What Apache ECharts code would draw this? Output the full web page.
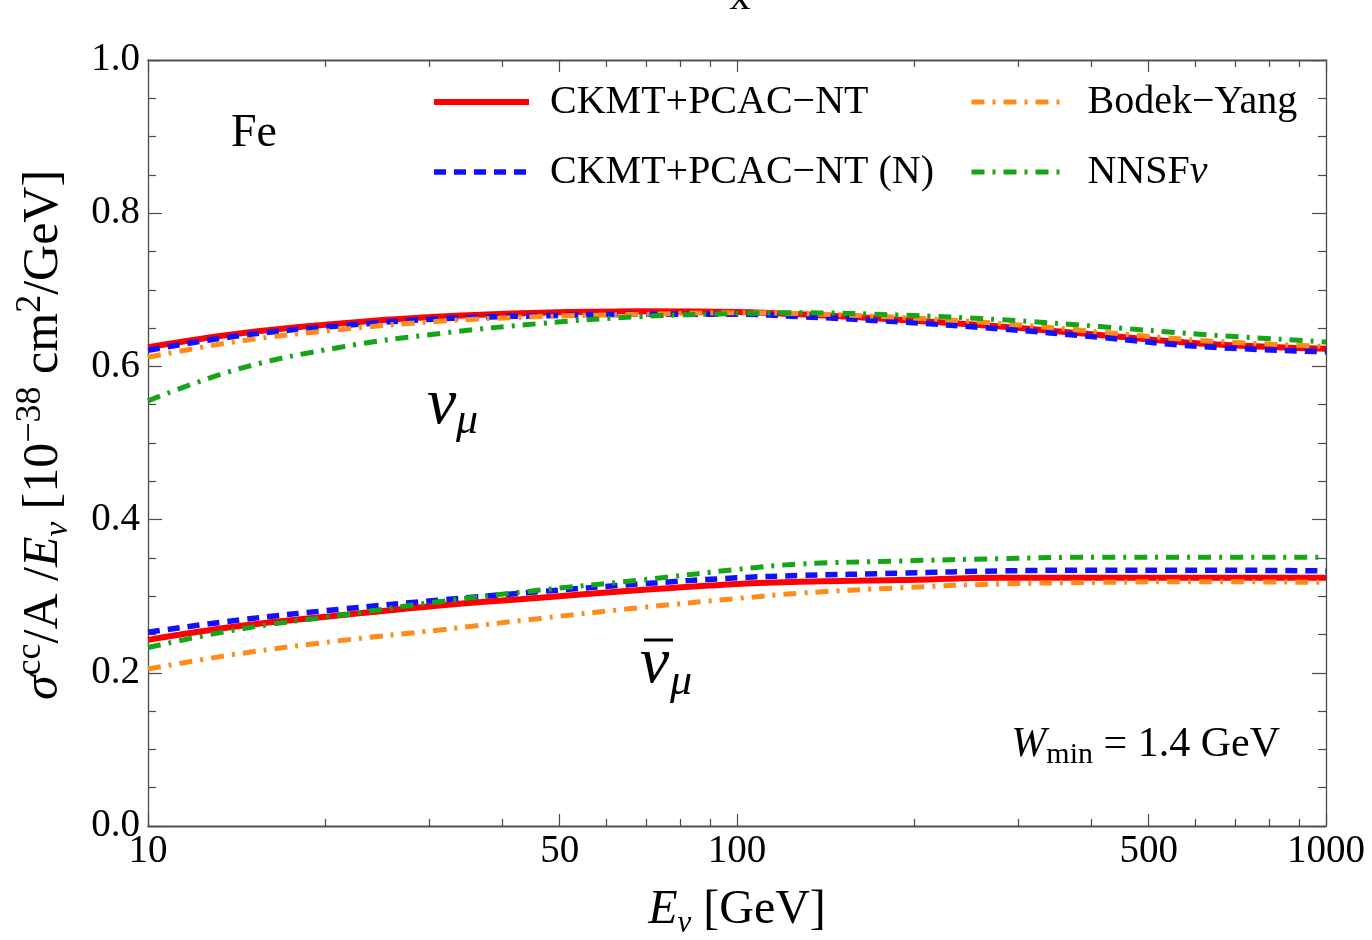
<!DOCTYPE html>
<html>
<head>
<meta charset="utf-8">
<script src="https://cdn.jsdelivr.net/npm/echarts@6/dist/echarts.min.js"></script>
<style>
  html, body { margin: 0; padding: 0; background: #fff; }
  #chart { width: 1372px; height: 940px; }
</style>
</head>
<body>
<div id="chart"></div>
<script>
// Neutrino energies (GeV) at which the curves are sampled
const energy = [10, 14.3, 21.2, 31.3, 46.3, 68.4, 100, 128, 189, 280, 413, 611, 1000];

// sigma_cc / A / E_nu  [1e-38 cm^2/GeV] for Fe, nu_mu
const nuCKMT   = [0.625, 0.643, 0.656, 0.665, 0.670, 0.672, 0.671, 0.668, 0.661, 0.652, 0.641, 0.630, 0.623];
const nuCKMTN  = [0.621, 0.640, 0.653, 0.662, 0.666, 0.668, 0.668, 0.665, 0.658, 0.649, 0.638, 0.626, 0.619];
const nuBY     = [0.612, 0.633, 0.648, 0.659, 0.665, 0.668, 0.670, 0.669, 0.664, 0.656, 0.645, 0.634, 0.626];
const nuNNSF   = [0.555, 0.597, 0.625, 0.643, 0.656, 0.665, 0.669, 0.670, 0.667, 0.661, 0.652, 0.642, 0.632];

// same for anti-nu_mu
const nubCKMT  = [0.243, 0.261, 0.275, 0.288, 0.298, 0.308, 0.316, 0.319, 0.321, 0.324, 0.324, 0.324, 0.324];
const nubCKMTN = [0.253, 0.269, 0.283, 0.295, 0.306, 0.316, 0.324, 0.327, 0.330, 0.333, 0.334, 0.334, 0.333];
const nubBY    = [0.205, 0.225, 0.242, 0.256, 0.271, 0.285, 0.297, 0.304, 0.311, 0.316, 0.318, 0.319, 0.318];
const nubNNSF  = [0.233, 0.257, 0.275, 0.293, 0.308, 0.321, 0.335, 0.342, 0.346, 0.349, 0.351, 0.351, 0.351];

// axis ticks
const xMajor = [10, 50, 100, 500, 1000];
const xMinor = [20, 30, 40, 60, 70, 80, 90, 200, 300, 400, 600, 700, 800, 900];
const yTicks = [0, 0.2, 0.4, 0.6, 0.8, 1.0];

const names = ['CKMT+PCAC\u2212NT', 'CKMT+PCAC\u2212NT (N)', 'Bodek\u2212Yang', 'NNSF\u03bd'];

const SERIF = 'Liberation Serif';
const AXIS_COLOR = '#4a4a4a';
const lg = Math.log10;
const toPts = vals => energy.map((e, i) => [lg(e), vals[i]]);

const styles = [
  { color: '#ff0000', width: 6, type: 'solid' },
  { color: '#1010ff', width: 5.5, type: [12, 8] },
  { color: '#ff8c1a', width: 5, type: [13, 8, 3, 8] },
  { color: '#16a516', width: 5, type: [13, 8, 3, 8] }
];
const nuSets = [nuCKMT, nuCKMTN, nuBY, nuNNSF];
const nubSets = [nubCKMT, nubCKMTN, nubBY, nubNNSF];

const series = [];
[nuSets, nubSets].forEach(sets => {
  sets.forEach((vals, k) => {
    series.push({
      name: names[k],
      type: 'line',
      data: toPts(vals),
      smooth: 0.4,
      symbol: 'none',
      showSymbol: false,
      silent: true,
      z: 2 + k,
      itemStyle: { color: styles[k].color },
      lineStyle: { color: styles[k].color, width: styles[k].width, type: styles[k].type, cap: 'butt' }
    });
  });
});

function xAxisDef(position, ticks, len, withLabels) {
  return {
    type: 'value', min: 1, max: 3, position: position,
    axisLine: { show: true, onZero: false, lineStyle: { color: AXIS_COLOR, width: 1.3 } },
    axisTick: { show: true, inside: true, length: len, customValues: ticks.map(lg),
                lineStyle: { color: AXIS_COLOR, width: 1.2 } },
    axisLabel: withLabels ? {
      show: true, customValues: ticks.map(lg), margin: 6,
      fontFamily: SERIF, fontSize: 39, color: '#000',
      formatter: v => String(Math.round(Math.pow(10, v)))
    } : { show: false },
    splitLine: { show: false }
  };
}

function yAxisDef(position, withLabels) {
  return {
    type: 'value', min: 0, max: 1, interval: 0.2, position: position,
    axisLine: { show: true, onZero: false, lineStyle: { color: AXIS_COLOR, width: 1.3 } },
    axisTick: { show: true, inside: true, length: 14, lineStyle: { color: AXIS_COLOR, width: 1.2 } },
    minorTick: { show: true, splitNumber: 4, length: 8, lineStyle: { color: AXIS_COLOR, width: 1.2 } },
    axisLabel: withLabels ? {
      show: true, margin: 8, fontFamily: SERIF, fontSize: 39, color: '#000',
      formatter: v => v.toFixed(1)
    } : { show: false },
    splitLine: { show: false },
    minorSplitLine: { show: false }
  };
}

const legendText = {
  fontFamily: SERIF, fontSize: 40, color: '#000', lineHeight: 40, padding: [0, 0, 0, 16],
  rich: { i: { fontFamily: SERIF, fontStyle: 'italic', fontSize: 40, color: '#000' } }
};
const legendFmt = n => n === 'NNSF\u03bd' ? 'NNSF{i|\u03bd}' : n;
const legendCommon = {
  orient: 'vertical', top: 77, itemGap: 30, itemWidth: 95, itemHeight: 20,
  textStyle: legendText, formatter: legendFmt, selectedMode: false,
  itemStyle: { color: 'transparent', borderColor: 'transparent', borderWidth: 0 },
  lineStyle: { width: 'inherit', type: 'inherit' }
};

const chart = echarts.init(document.getElementById('chart'), null, { renderer: 'canvas' });
chart.setOption({
  animation: false,
  backgroundColor: '#fff',
  grid: { left: 148, right: 46, top: 60, bottom: 114, containLabel: false },
  xAxis: [
    xAxisDef('bottom', xMajor, 12, true),
    xAxisDef('bottom', xMinor, 7, false),
    xAxisDef('top', xMajor, 12, false),
    xAxisDef('top', xMinor, 7, false)
  ],
  yAxis: [yAxisDef('left', true), yAxisDef('right', false)],
  legend: [
    Object.assign({ data: names.slice(0, 2), left: 426 }, legendCommon),
    Object.assign({ data: names.slice(2), left: 964 }, legendCommon)
  ],
  series: series,
  graphic: [
    // fragment of a label above the frame
    { type: 'text', x: 740, y: -2, style: { text: 'x', font: '42px "Liberation Serif"', fill: '#000',
      align: 'center', verticalAlign: 'middle' } },
    // target nucleus
    { type: 'text', x: 231, y: 134, style: { text: 'Fe', font: '46px "Liberation Serif"', fill: '#000',
      align: 'left', verticalAlign: 'middle' } },
    // nu_mu label
    { type: 'text', x: 427, y: 406, style: { text: '\u03bd', font: 'italic 66px "Liberation Serif"', fill: '#000',
      align: 'left', verticalAlign: 'middle' } },
    { type: 'text', x: 456, y: 421, style: { text: '\u03bc', font: 'italic 44px "Liberation Serif"', fill: '#000',
      align: 'left', verticalAlign: 'middle' } },
    // anti nu_mu label
    { type: 'text', x: 640, y: 665, style: { text: '\u03bd', font: 'italic 66px "Liberation Serif"', fill: '#000',
      align: 'left', verticalAlign: 'middle' } },
    { type: 'text', x: 670, y: 682, style: { text: '\u03bc', font: 'italic 44px "Liberation Serif"', fill: '#000',
      align: 'left', verticalAlign: 'middle' } },
    { type: 'line', shape: { x1: 644, y1: 640, x2: 673, y2: 640 }, style: { stroke: '#000', lineWidth: 3 } },
    // W_min annotation
    { type: 'text', x: 1280, y: 745, style: {
      text: '{i|W}{s|min}{n| = 1.4 GeV}', align: 'right', verticalAlign: 'middle',
      rich: {
        i: { fontFamily: SERIF, fontStyle: 'italic', fontSize: 42, lineHeight: 50, fill: '#000' },
        s: { fontFamily: SERIF, fontSize: 30, lineHeight: 30, verticalAlign: 'bottom', fill: '#000' },
        n: { fontFamily: SERIF, fontSize: 42, lineHeight: 50, fill: '#000' }
      } } },
    // x axis title
    { type: 'text', x: 737, y: 910, style: {
      text: '{i|E}{s|\u03bd}{n| [GeV]}', align: 'center', verticalAlign: 'middle',
      rich: {
        i: { fontFamily: SERIF, fontStyle: 'italic', fontSize: 48, lineHeight: 58, fill: '#000' },
        s: { fontFamily: SERIF, fontStyle: 'italic', fontSize: 31, lineHeight: 31, verticalAlign: 'bottom', fill: '#000' },
        n: { fontFamily: SERIF, fontSize: 48, lineHeight: 58, fill: '#000' }
      } } },
    // y axis title
    { type: 'text', x: 44, y: 435, rotation: Math.PI / 2, style: {
      text: '{i|\u03c3}{p|cc}{n|/A /}{i|E}{s|\u03bd}{n| [10}{p|\u221238}{n| cm}{p|2}{n|/GeV]}',
      align: 'center', verticalAlign: 'middle',
      rich: {
        i: { fontFamily: SERIF, fontStyle: 'italic', fontSize: 50, lineHeight: 62, fill: '#000' },
        n: { fontFamily: SERIF, fontSize: 50, lineHeight: 62, fill: '#000' },
        p: { fontFamily: SERIF, fontSize: 36, lineHeight: 36, verticalAlign: 'top', fill: '#000' },
        s: { fontFamily: SERIF, fontStyle: 'italic', fontSize: 33, lineHeight: 33, verticalAlign: 'bottom', fill: '#000' }
      } } }
  ]
});
</script>
</body>
</html>
